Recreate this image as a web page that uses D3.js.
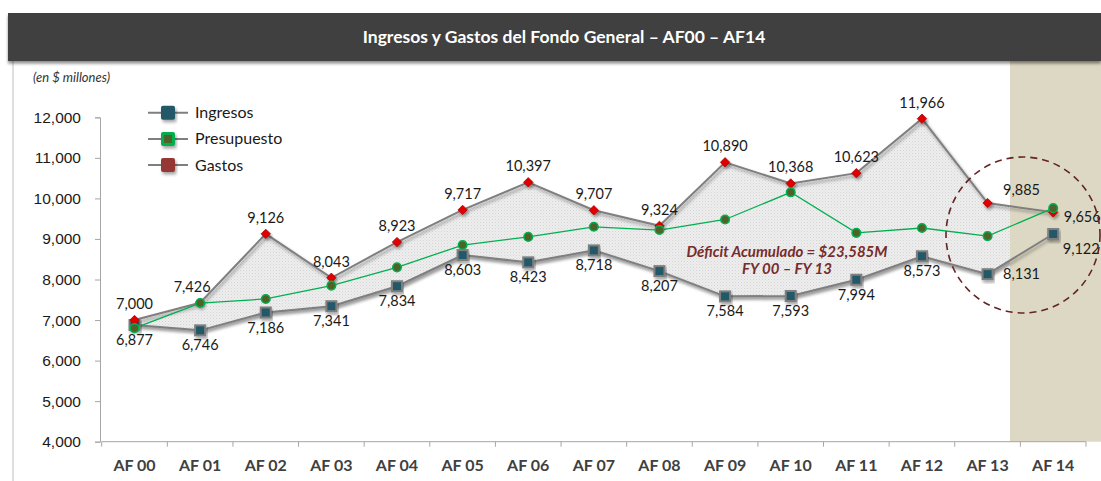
<!DOCTYPE html>
<html>
<head>
<meta charset="utf-8">
<title>Ingresos y Gastos del Fondo General</title>
<script src="https://d3js.org/d3.v7.min.js"></script>
<style>
    body { margin: 0; background: #fff; }
    svg { display: block; font-family: Lato, "Open Sans", sans-serif; }
    .lbl { font-size: 14.5px; fill: #1a1a1a; text-anchor: middle; }
    .ytick text { font-size: 15.5px; fill: #1a1a1a; }
    .xlbl { font-size: 16px; font-weight: bold; fill: #404040; text-anchor: middle; }
</style>
</head>
<body>
<div id="chart"></div>
<script>
    var years = ["AF 00","AF 01","AF 02","AF 03","AF 04","AF 05","AF 06","AF 07","AF 08","AF 09","AF 10","AF 11","AF 12","AF 13","AF 14"];
    var gastos = [7000,7426,9126,8043,8923,9717,10397,9707,9324,10890,10368,10623,11966,9885,9656];
    var ingresos = [6877,6746,7186,7341,7834,8603,8423,8718,8207,7584,7593,7994,8573,8131,9122];
    var presupuesto = [6800,7420,7520,7850,8300,8850,9050,9300,9220,9480,10150,9150,9270,9070,9760];
    var yTicks = [4000,5000,6000,7000,8000,9000,10000,11000,12000];

    var width = 1101, height = 481;
    var shadeX = 1010;   // start of the shaded AF14 column

    var svg = d3.select("#chart").append("svg")
        .attr("width", width)
        .attr("height", height);

    var defs = svg.append("defs");

    var shadow = defs.append("filter").attr("id", "shadow")
        .attr("x", "-20%").attr("y", "-20%").attr("width", "140%").attr("height", "160%");
    shadow.append("feDropShadow")
        .attr("dx", 1.5).attr("dy", 2.5).attr("stdDeviation", 1.6)
        .attr("flood-color", "#000").attr("flood-opacity", 0.35);

    var barShadow = defs.append("filter").attr("id", "barshadow")
        .attr("x", "-5%").attr("y", "-20%").attr("width", "110%").attr("height", "150%");
    barShadow.append("feDropShadow")
        .attr("dx", 0).attr("dy", 2.5).attr("stdDeviation", 1.5)
        .attr("flood-color", "#000").attr("flood-opacity", 0.45);

    //fine dotted fill for the deficit area
    var pat = defs.append("pattern").attr("id", "dots")
        .attr("width", 3).attr("height", 3).attr("patternUnits", "userSpaceOnUse");
    pat.append("rect").attr("width", 3).attr("height", 3).attr("fill", "#eeeeee");
    pat.append("rect").attr("width", 1).attr("height", 1).attr("fill", "#d3d3d3");
    pat.append("rect").attr("x", 1.5).attr("y", 1.5).attr("width", 1).attr("height", 1).attr("fill", "#dcdcdc");

    defs.append("clipPath").attr("id", "areaclip")
        .append("rect").attr("x", 0).attr("y", 0).attr("width", shadeX).attr("height", height);

    var x = d3.scaleBand().domain(years).range([101.7, 1086]);
    var y = d3.scaleLinear().domain([4000, 12000]).range([441.7, 117.3]);
    var cx = function(i) { return x(years[i]) + x.bandwidth() / 2; };

    //frame, shaded column, title bar
    svg.append("line")
        .attr("x1", 13).attr("x2", 13).attr("y1", 61).attr("y2", height)
        .attr("stroke", "#bfbfbf").attr("stroke-width", 1);

    svg.append("rect")
        .attr("x", shadeX).attr("y", 61)
        .attr("width", width - shadeX).attr("height", y(4000) - 61)
        .attr("fill", "#ddd8c3");

    svg.append("rect")
        .attr("x", 8).attr("y", 13).attr("width", width - 8).attr("height", 48)
        .attr("fill", "#404040")
        .attr("filter", "url(#barshadow)");

    svg.append("text")
        .attr("x", 564).attr("y", 43)
        .attr("text-anchor", "middle")
        .attr("fill", "#fff")
        .style("font-size", "17.5px").style("font-weight", "bold")
        .text("Ingresos y Gastos del Fondo General – AF00 – AF14");

    svg.append("text")
        .attr("x", 33).attr("y", 82)
        .attr("fill", "#333")
        .style("font-size", "13px").style("font-style", "italic")
        .text("(en $ millones)");

    //axes
    var yAxis = svg.append("g")
        .attr("class", "ytick")
        .attr("transform", "translate(100,0)")
        .call(d3.axisLeft(y).tickValues(yTicks).tickSize(5).tickPadding(14).tickFormat(d3.format(",")));
    yAxis.select(".domain").attr("stroke", "#a6a6a6");
    yAxis.selectAll(".tick line").attr("stroke", "#a6a6a6");

    var xg = svg.append("g");
    xg.append("line")
        .attr("x1", x.range()[0]).attr("x2", x.range()[1])
        .attr("y1", y(4000)).attr("y2", y(4000))
        .attr("stroke", "#a6a6a6");
    xg.selectAll(".xt").data(years.concat(["end"])).enter().append("line")
        .attr("x1", function(d, i) { return x.range()[0] + i * x.step(); })
        .attr("x2", function(d, i) { return x.range()[0] + i * x.step(); })
        .attr("y1", y(4000)).attr("y2", y(4000) + 5)
        .attr("stroke", "#a6a6a6");
    xg.selectAll(".xlbl").data(years).enter().append("text")
        .attr("class", "xlbl")
        .attr("x", function(d, i) { return cx(i); })
        .attr("y", 471)
        .text(function(d) { return d; });

    //deficit area between gastos and ingresos
    var area = d3.area()
        .x(function(d, i) { return cx(i); })
        .y0(function(d, i) { return y(ingresos[i]); })
        .y1(function(d) { return y(d); });

    svg.append("path")
        .datum(gastos)
        .attr("d", area)
        .attr("fill", "url(#dots)")
        .attr("clip-path", "url(#areaclip)")
        .attr("filter", "url(#shadow)");

    var line = d3.line().x(function(d, i) { return cx(i); }).y(function(d) { return y(d); });

    svg.append("path").datum(ingresos).attr("d", line)
        .attr("fill", "none").attr("stroke", "#7f7f7f").attr("stroke-width", 2)
        .attr("filter", "url(#shadow)");
    svg.append("path").datum(gastos).attr("d", line)
        .attr("fill", "none").attr("stroke", "#7f7f7f").attr("stroke-width", 2)
        .attr("filter", "url(#shadow)");
    svg.append("path").datum(presupuesto).attr("d", line)
        .attr("fill", "none").attr("stroke", "#00b050").attr("stroke-width", 1.3);

    //markers
    svg.selectAll(".ing").data(ingresos).enter().append("rect")
        .attr("x", function(d, i) { return cx(i) - 5; })
        .attr("y", function(d) { return y(d) - 5; })
        .attr("width", 10).attr("height", 10)
        .attr("fill", "#215967").attr("stroke", "#7f7f7f").attr("stroke-width", 2)
        .attr("filter", "url(#shadow)");

    var diamond = d3.symbol().type(d3.symbolDiamond2).size(56);
    svg.selectAll(".gas").data(gastos).enter().append("path")
        .attr("d", diamond)
        .attr("transform", function(d, i) { return "translate(" + cx(i) + "," + y(d) + ")"; })
        .attr("fill", "#e00000").attr("stroke", "#b00000").attr("stroke-width", 0.8)
        .attr("filter", "url(#shadow)");

    svg.selectAll(".pre").data(presupuesto).enter().append("circle")
        .attr("cx", function(d, i) { return cx(i); })
        .attr("cy", function(d) { return y(d); })
        .attr("r", 4.3)
        .attr("fill", "#4f6228").attr("stroke", "#00b050").attr("stroke-width", 1.5);

    //data labels
    var fmt = d3.format(",");
    var last = years.length - 1;
    svg.selectAll(".glbl").data(gastos).enter().append("text")
        .attr("class", "lbl")
        .attr("x", function(d, i) {
            if (i == last - 1) return cx(i) + 34;
            if (i == last) return cx(i) + 29;
            if (i == 1) return cx(i) - 8;
            return cx(i);
        })
        .attr("y", function(d, i) {
            if (i == last - 1) return y(d) - 8;
            if (i == last) return y(d) + 10;
            return y(d) - 11;
        })
        .text(function(d) { return fmt(d); });

    svg.selectAll(".ilbl").data(ingresos).enter().append("text")
        .attr("class", "lbl")
        .attr("x", function(d, i) {
            if (i == last - 1) return cx(i) + 34;
            if (i == last) return cx(i) + 28;
            return cx(i);
        })
        .attr("y", function(d, i) {
            if (i == last - 1) return y(d) + 5;
            return y(d) + 20;
        })
        .text(function(d) { return fmt(d); });

    //annotation
    var note = svg.append("text")
        .attr("text-anchor", "middle")
        .attr("fill", "#772c2a")
        .style("font-size", "15px").style("font-weight", "bold").style("font-style", "italic");
    note.append("tspan").attr("x", 787).attr("y", 257).text("Déficit Acumulado = $23,585M");
    note.append("tspan").attr("x", 787).attr("y", 274).text("FY 00 – FY 13");

    svg.append("ellipse")
        .attr("cx", 1023).attr("cy", 235).attr("rx", 77).attr("ry", 78)
        .attr("fill", "none").attr("stroke", "#632523")
        .attr("stroke-width", 1.6).attr("stroke-dasharray", "7,5");

    //legend
    var legend = [
        {name: "Ingresos", type: "ing"},
        {name: "Presupuesto", type: "pre"},
        {name: "Gastos", type: "gas"}
    ];
    var lg = svg.selectAll(".leg").data(legend).enter().append("g")
        .attr("transform", function(d, i) { return "translate(168," + (112.7 + i * 26.2) + ")"; });
    lg.append("line").attr("x1", -20).attr("x2", 20)
        .attr("stroke", "#7f7f7f").attr("stroke-width", 2);
    lg.append("rect")
        .attr("x", -7).attr("y", -7).attr("width", 14).attr("height", 14).attr("rx", 2)
        .attr("fill", function(d) { return d.type == "ing" ? "#215967" : d.type == "pre" ? "#00b050" : "#953735"; })
        .attr("filter", "url(#shadow)");
    lg.filter(function(d) { return d.type == "pre"; }).append("rect")
        .attr("x", -4).attr("y", -4).attr("width", 8).attr("height", 8)
        .attr("fill", "#4f6228");
    lg.append("text")
        .attr("x", 27).attr("y", 5.5)
        .attr("fill", "#1a1a1a")
        .style("font-size", "16px")
        .text(function(d) { return d.name; });
</script>
</body>
</html>
